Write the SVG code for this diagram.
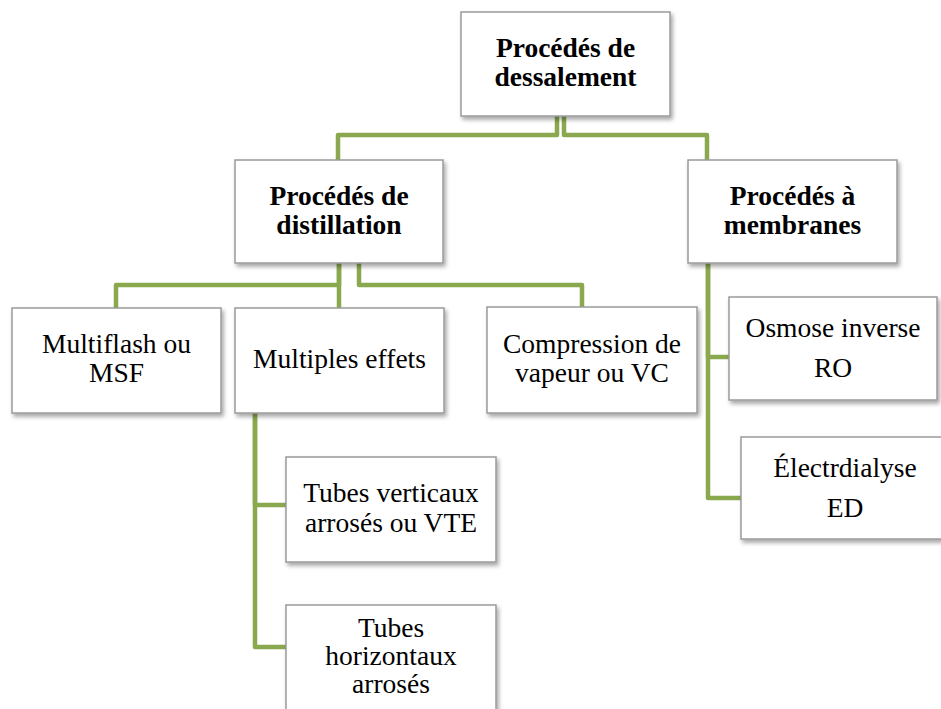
<svg xmlns="http://www.w3.org/2000/svg" width="941" height="709" viewBox="0 0 941 709">
<defs>
<filter id="sh" x="-10%" y="-10%" width="125%" height="130%">
<feDropShadow dx="2" dy="3" stdDeviation="2" flood-color="#000" flood-opacity="0.35"/>
</filter>
<style>
.box{fill:#fff;stroke:#9a9a9a;stroke-width:1.5;filter:url(#sh)}
.t{font-family:"Liberation Serif","Times New Roman",serif;font-size:27.5px;fill:#000;text-anchor:middle}
.b{font-weight:bold}
.c{fill:none;stroke:#8aa84e;stroke-width:4.5;stroke-linejoin:round}
</style>
</defs>
<rect width="941" height="709" fill="#fff"/>
<g id="connectors">
<path class="c" d="M557,116 V135 H338 V160"/>
<path class="c" d="M564,116 V135 H707 V160"/>
<path class="c" d="M339,263 V285 H116 V308"/>
<path class="c" d="M339,263 V308"/>
<path class="c" d="M359,263 V285 H582 V307"/>
<path class="c" d="M255,413 V505 H286"/>
<path class="c" d="M255,413 V647 H286"/>
<path class="c" d="M708,263 V357 H729"/>
<path class="c" d="M708,263 V498 H741"/>
</g>
<g id="n-dessalement">
<rect class="box" x="461" y="12" width="209" height="104"/>
<text class="t b" x="565.5" y="57">Procédés de</text>
<text class="t b" x="565.5" y="86">dessalement</text>
</g>
<g id="n-distillation">
<rect class="box" x="235" y="160" width="208" height="103"/>
<text class="t b" x="339" y="205">Procédés de</text>
<text class="t b" x="339" y="234">distillation</text>
</g>
<g id="n-membranes">
<rect class="box" x="688" y="160" width="209" height="103"/>
<text class="t b" x="792.5" y="205">Procédés à</text>
<text class="t b" x="792.5" y="234">membranes</text>
</g>
<g id="n-msf">
<rect class="box" x="12" y="308" width="209" height="105"/>
<text class="t" x="116.5" y="353">Multiflash ou</text>
<text class="t" x="116.5" y="382">MSF</text>
</g>
<g id="n-multiples">
<rect class="box" x="235" y="308" width="209" height="105"/>
<text class="t" x="339.5" y="368">Multiples effets</text>
</g>
<g id="n-vc">
<rect class="box" x="487" y="307" width="210" height="106"/>
<text class="t" x="592" y="353">Compression de</text>
<text class="t" x="592" y="382">vapeur ou VC</text>
</g>
<g id="n-ro">
<rect class="box" x="729" y="297" width="208" height="103"/>
<text class="t" x="833" y="337">Osmose inverse</text>
<text class="t" x="833" y="377">RO</text>
</g>
<g id="n-ed">
<rect class="box" x="741" y="437" width="208" height="102"/>
<text class="t" x="845" y="477">Électrdialyse</text>
<text class="t" x="845" y="517">ED</text>
</g>
<g id="n-vte">
<rect class="box" x="286" y="457" width="210" height="105"/>
<text class="t" x="391" y="502">Tubes verticaux</text>
<text class="t" x="391" y="532">arrosés ou VTE</text>
</g>
<g id="n-horiz">
<rect class="box" x="286" y="605" width="210" height="106"/>
<text class="t" x="391" y="637">Tubes</text>
<text class="t" x="391" y="665">horizontaux</text>
<text class="t" x="391" y="693">arrosés</text>
</g>
</svg>
